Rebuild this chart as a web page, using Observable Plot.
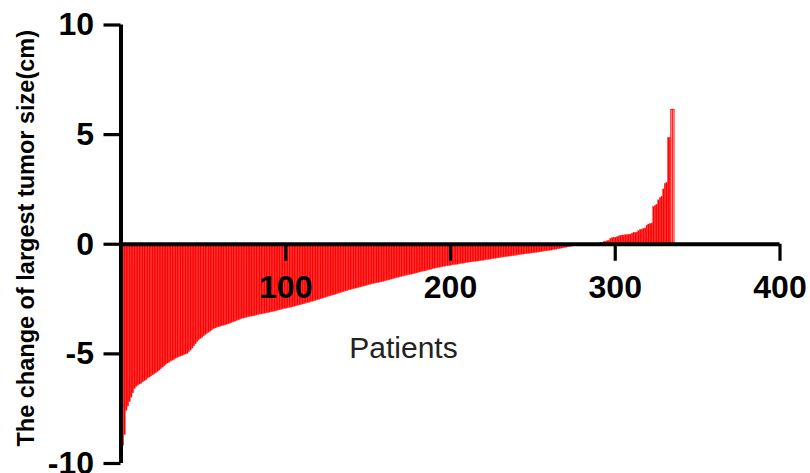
<!DOCTYPE html>
<html>
<head>
<meta charset="utf-8">
<script src="https://cdn.jsdelivr.net/npm/d3@7"></script>
<script src="https://cdn.jsdelivr.net/npm/@observablehq/plot@0.6"></script>
<style>
  html, body { margin: 0; padding: 0; background: #fff; }
</style>
</head>
<body>
<div id="chart"></div>
<script>
// Change of largest tumor size (cm), one value per patient, sorted ascending
const changeSeg1 = [-9.6,-9.2,-8.7,-7.6,-7.4,-7.2,-7.0,-6.8,-6.6,-6.5];
const changeSeg2 = [-6.45,-6.4,-6.36,-6.3,-6.25,-6.2,-6.13,-6.08,-6.03,-5.98,-5.93,-5.88,-5.83];
const changeSeg3 = [-5.76,-5.7,-5.63,-5.57,-5.5,-5.44,-5.4,-5.35,-5.31,-5.27,-5.22,-5.18,-5.15,-5.12,-5.09,-5.06,-5.03,-5.0];
const changeSeg4 = [-4.92,-4.85,-4.76,-4.66,-4.56,-4.45,-4.38,-4.32,-4.26,-4.2,-4.14,-4.08,-4.04,-3.98,-3.92,-3.87,-3.84];
const changeSeg5 = [-3.81,-3.79,-3.76,-3.74,-3.72,-3.7,-3.67,-3.65,-3.62,-3.59,-3.56,-3.53,-3.5,-3.47,-3.44,-3.41];
const changeSeg6 = [-3.39,-3.37,-3.35,-3.33,-3.31,-3.3,-3.29,-3.27,-3.25,-3.23,-3.21,-3.2,-3.18,-3.17,-3.15,-3.14,-3.12,-3.1,-3.09,-3.07];
const changeSeg7 = [-3.05,-3.03,-3.01,-2.99,-2.97,-2.95,-2.94,-2.92,-2.9,-2.89,-2.87,-2.85,-2.83,-2.81,-2.79,-2.77,-2.75,-2.73,-2.71,-2.69];
const changeSeg8 = [-2.67,-2.64,-2.62,-2.6,-2.58,-2.55,-2.53,-2.51,-2.48,-2.46,-2.44,-2.41,-2.39,-2.37,-2.34,-2.32,-2.3,-2.27,-2.25,-2.23,-2.2,-2.18,-2.15];
const changeSeg9 = [-2.13,-2.11,-2.09,-2.07,-2.05,-2.03,-2.01,-1.99,-1.97,-1.95,-1.93,-1.91,-1.89,-1.87,-1.85,-1.83,-1.81,-1.79,-1.78,-1.77];
const changeSeg10 = [-1.75,-1.73,-1.71,-1.69,-1.67,-1.65,-1.63,-1.61,-1.59,-1.57,-1.55,-1.53,-1.51,-1.49,-1.47,-1.45,-1.43,-1.42,-1.4,-1.39];
const changeSeg11 = [-1.37,-1.35,-1.33,-1.31,-1.29,-1.27,-1.25,-1.24,-1.22,-1.2,-1.18,-1.16,-1.14,-1.12,-1.1,-1.09,-1.07,-1.06,-1.04,-1.03,-1.01];
const changeSeg12 = [-1.0,-0.99,-0.98,-0.96,-0.95,-0.94,-0.93,-0.91,-0.9,-0.89,-0.88,-0.86,-0.85,-0.84,-0.83,-0.82,-0.81,-0.8,-0.79,-0.78];
const changeSeg13 = [-0.77,-0.76,-0.75,-0.73,-0.72,-0.71,-0.7,-0.68,-0.67,-0.66,-0.65,-0.64,-0.62,-0.61,-0.6,-0.59,-0.58,-0.57,-0.56,-0.55];
const changeSeg14 = [-0.54,-0.53,-0.52,-0.5,-0.49,-0.48,-0.47,-0.46,-0.45,-0.44,-0.43,-0.42,-0.41,-0.4,-0.39,-0.38,-0.37,-0.36,-0.34,-0.33,-0.32];
const changeSeg15 = [-0.31,-0.3,-0.29,-0.27,-0.26,-0.25,-0.23,-0.22,-0.2,-0.19,-0.17,-0.16,-0.14,-0.13,-0.11,-0.1,-0.08];
const changeSeg16 = [-0.06,-0.05,-0.05,-0.04,-0.03,-0.02,-0.01,0,0,0,0,0,0.02,0.03,0.04,0.05,0.06];
const changeSeg17 = [0.1,0.12,0.14,0.15, 0.25,0.28,0.3,0.3,0.32, 0.36,0.38,0.4,0.4,0.41,0.42,0.43,0.44,
                     0.48,0.5,0.52,0.54, 0.6,0.65,0.67,0.7,0.72, 0.85,0.9,0.92,0.95, 1.7,1.75,1.8,
                     2.0,2.1,2.15, 2.5,2.74,2.8, 4.85,4.85, 6.13,6.13];

const xTicks = [100, 200, 300, 400];
const yTicks = [-10, -5, 0, 5, 10];
const xLabel = "Patients";
const yLabel = "The change of largest tumor size(cm)";

const changes = [].concat(changeSeg1, changeSeg2, changeSeg3, changeSeg4, changeSeg5, changeSeg6,
  changeSeg7, changeSeg8, changeSeg9, changeSeg10, changeSeg11, changeSeg12, changeSeg13,
  changeSeg14, changeSeg15, changeSeg16, changeSeg17);
const data = changes.map((v, i) => ({patient: i + 1, change: v}));

const FONT = "'Liberation Sans', Arial, Helvetica, sans-serif";

const chart = Plot.plot({
  width: 810,
  height: 473,
  marginLeft: 120.5,
  marginRight: 30.5,
  marginTop: 24.5,
  marginBottom: 10,
  style: {fontFamily: FONT, background: "#fff", overflow: "visible"},
  x: {domain: [0, 400], axis: null},
  y: {domain: [-10, 10], axis: null},
  marks: [
    Plot.rectY(data, {
      x1: d => d.patient - 1,
      x2: d => d.patient,
      y: "change",
      fill: d => d.change > 5.5 ? "#ffb8b8" : "#ff0000",
      stroke: d => d.change > 5.5 ? "#ff2020" : "#ff3838",
      strokeWidth: d => d.change > 5.5 ? 1 : 0.35
    }),
    // x axis line at zero with downward ticks
    Plot.ruleY([0], {stroke: "#000", strokeWidth: 4}),
    Plot.ruleX(xTicks, {x: d => d, y1: 0, y2: 0, insetBottom: -17, stroke: "#000", strokeWidth: 3.2}),
    Plot.text(xTicks, {
      x: d => d, y: 0, dy: 43, text: d => String(d),
      fontSize: 32, fontWeight: "bold", fill: "#000"
    }),
    // y axis
    Plot.axisY({
      ticks: yTicks, tickSize: 17, tickPadding: 10, fontSize: 32, fontWeight: "bold",
      strokeWidth: 3.2, stroke: "#000", color: "#000", label: null, tickFormat: d => String(d)
    }),
    Plot.ruleX([0], {stroke: "#000", strokeWidth: 4}),
    Plot.text([yLabel], {
      frameAnchor: "left", dx: -95, dy: -6, rotate: -90, text: d => d, textAnchor: "middle",
      fontSize: 23.5, fontWeight: "bold", fill: "#000"
    }),
    Plot.text([xLabel], {
      frameAnchor: "middle", dx: -47, dy: 104, text: d => d,
      fontSize: 30, fill: "#222"
    })
  ]
});

document.getElementById("chart").appendChild(chart);
</script>
</body>
</html>
